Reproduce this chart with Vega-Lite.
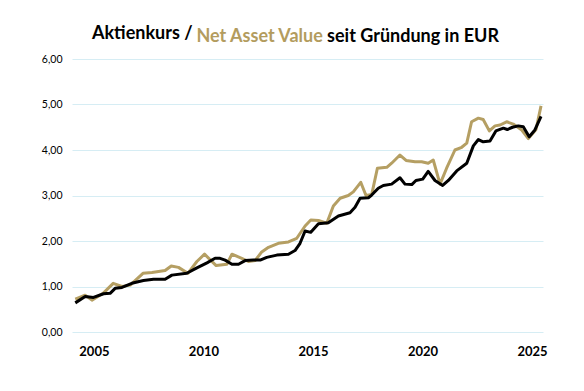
{
  "$schema": "https://vega.github.io/schema/vega-lite/v6.json",
  "autosize": "none",
  "width": 471,
  "height": 273,
  "padding": {"left": 72, "top": 59, "right": 41, "bottom": 59},
  "background": "#ffffff",
  "config": {"view": {"stroke": null}},
  "title": {
    "text": "Aktienkurs /",
    "anchor": "start",
    "frame": "group",
    "dx": 20,
    "offset": -29,
    "baseline": "alphabetic",
    "font": "Lato",
    "fontSize": 18,
    "fontWeight": "bold",
    "color": "#000000"
  },
  "datasets": {
    "nav": [
      {"t": 2004.15, "v": 0.72}, {"t": 2004.60, "v": 0.81}, {"t": 2004.91, "v": 0.70},
      {"t": 2005.42, "v": 0.85}, {"t": 2005.88, "v": 1.07}, {"t": 2006.28, "v": 1.00},
      {"t": 2006.66, "v": 1.03}, {"t": 2007.24, "v": 1.29}, {"t": 2007.65, "v": 1.31},
      {"t": 2008.25, "v": 1.35}, {"t": 2008.53, "v": 1.45}, {"t": 2008.86, "v": 1.42},
      {"t": 2009.29, "v": 1.29}, {"t": 2009.70, "v": 1.55}, {"t": 2010.05, "v": 1.71},
      {"t": 2010.58, "v": 1.46}, {"t": 2011.07, "v": 1.49}, {"t": 2011.30, "v": 1.71},
      {"t": 2011.75, "v": 1.62}, {"t": 2012.05, "v": 1.55}, {"t": 2012.36, "v": 1.57},
      {"t": 2012.66, "v": 1.76}, {"t": 2012.97, "v": 1.86}, {"t": 2013.42, "v": 1.95},
      {"t": 2013.88, "v": 1.98}, {"t": 2014.26, "v": 2.06}, {"t": 2014.64, "v": 2.33},
      {"t": 2014.90, "v": 2.46}, {"t": 2015.25, "v": 2.45}, {"t": 2015.63, "v": 2.39},
      {"t": 2015.93, "v": 2.77}, {"t": 2016.24, "v": 2.94}, {"t": 2016.61, "v": 3.00},
      {"t": 2016.84, "v": 3.08}, {"t": 2017.18, "v": 3.29}, {"t": 2017.42, "v": 3.00},
      {"t": 2017.68, "v": 3.02}, {"t": 2017.94, "v": 3.60}, {"t": 2018.37, "v": 3.62},
      {"t": 2018.59, "v": 3.71}, {"t": 2018.97, "v": 3.89}, {"t": 2019.25, "v": 3.77},
      {"t": 2019.66, "v": 3.74}, {"t": 2019.96, "v": 3.74}, {"t": 2020.26, "v": 3.71},
      {"t": 2020.49, "v": 3.78}, {"t": 2020.80, "v": 3.25}, {"t": 2021.10, "v": 3.60},
      {"t": 2021.48, "v": 4.00}, {"t": 2021.79, "v": 4.06}, {"t": 2022.02, "v": 4.15},
      {"t": 2022.24, "v": 4.62}, {"t": 2022.55, "v": 4.70}, {"t": 2022.77, "v": 4.67},
      {"t": 2023.05, "v": 4.42}, {"t": 2023.31, "v": 4.53}, {"t": 2023.54, "v": 4.55},
      {"t": 2023.84, "v": 4.62}, {"t": 2024.14, "v": 4.57}, {"t": 2024.53, "v": 4.44},
      {"t": 2024.83, "v": 4.25}, {"t": 2025.18, "v": 4.45}, {"t": 2025.41, "v": 4.97}
    ],
    "kurs": [
      {"t": 2004.15, "v": 0.64}, {"t": 2004.60, "v": 0.78}, {"t": 2004.98, "v": 0.76},
      {"t": 2005.44, "v": 0.84}, {"t": 2005.74, "v": 0.85}, {"t": 2005.97, "v": 0.96},
      {"t": 2006.28, "v": 0.98}, {"t": 2006.73, "v": 1.07}, {"t": 2007.26, "v": 1.13},
      {"t": 2007.72, "v": 1.16}, {"t": 2008.25, "v": 1.16}, {"t": 2008.56, "v": 1.25},
      {"t": 2009.24, "v": 1.29}, {"t": 2009.70, "v": 1.41}, {"t": 2010.16, "v": 1.52},
      {"t": 2010.53, "v": 1.62}, {"t": 2010.76, "v": 1.62}, {"t": 2010.99, "v": 1.58},
      {"t": 2011.30, "v": 1.49}, {"t": 2011.60, "v": 1.49}, {"t": 2011.90, "v": 1.57},
      {"t": 2012.28, "v": 1.58}, {"t": 2012.59, "v": 1.58}, {"t": 2012.89, "v": 1.64},
      {"t": 2013.35, "v": 1.69}, {"t": 2013.88, "v": 1.71}, {"t": 2014.18, "v": 1.79},
      {"t": 2014.41, "v": 1.95}, {"t": 2014.64, "v": 2.22}, {"t": 2014.90, "v": 2.19},
      {"t": 2015.25, "v": 2.38}, {"t": 2015.70, "v": 2.40}, {"t": 2016.16, "v": 2.55},
      {"t": 2016.69, "v": 2.62}, {"t": 2016.92, "v": 2.74}, {"t": 2017.15, "v": 2.94},
      {"t": 2017.53, "v": 2.95}, {"t": 2017.68, "v": 3.01}, {"t": 2017.98, "v": 3.16},
      {"t": 2018.21, "v": 3.22}, {"t": 2018.59, "v": 3.25}, {"t": 2018.97, "v": 3.39},
      {"t": 2019.20, "v": 3.25}, {"t": 2019.51, "v": 3.24}, {"t": 2019.70, "v": 3.33},
      {"t": 2020.01, "v": 3.36}, {"t": 2020.26, "v": 3.53}, {"t": 2020.57, "v": 3.33},
      {"t": 2020.92, "v": 3.22}, {"t": 2021.18, "v": 3.33}, {"t": 2021.56, "v": 3.54},
      {"t": 2022.02, "v": 3.71}, {"t": 2022.32, "v": 4.09}, {"t": 2022.55, "v": 4.23},
      {"t": 2022.77, "v": 4.18}, {"t": 2023.08, "v": 4.20}, {"t": 2023.35, "v": 4.42},
      {"t": 2023.69, "v": 4.48}, {"t": 2023.87, "v": 4.45}, {"t": 2024.11, "v": 4.50},
      {"t": 2024.37, "v": 4.53}, {"t": 2024.60, "v": 4.51}, {"t": 2024.87, "v": 4.29},
      {"t": 2025.13, "v": 4.44}, {"t": 2025.41, "v": 4.74}
    ]
  },
  "encoding": {
    "x": {
      "field": "t",
      "type": "quantitative",
      "scale": {"domain": [2004, 2025.5], "nice": false, "zero": false},
      "axis": {
        "values": [2005, 2010, 2015, 2020, 2025],
        "format": "d",
        "grid": false,
        "domain": false,
        "ticks": false,
        "labelFont": "Lato",
        "labelFontSize": 13,
        "labelFontWeight": "bold",
        "labelColor": "#000000",
        "labelPadding": 13,
        "labelFlush": false,
        "title": "seit Gründung in EUR",
        "titleX": 254.6,
        "titleY": -290.5,
        "titleAlign": "left",
        "titleAnchor": null,
        "titleBaseline": "alphabetic",
        "titleFont": "Lato",
        "titleFontSize": 18,
        "titleFontWeight": "bold",
        "titleColor": "#000000"
      }
    },
    "y": {
      "field": "v",
      "type": "quantitative",
      "scale": {"domain": [0, 6], "nice": false},
      "axis": {
        "values": [0, 1, 2, 3, 4, 5, 6],
        "labelExpr": "replace(format(datum.value, '.2f'), '.', ',')",
        "grid": true,
        "gridColor": "#d6edf4",
        "gridWidth": 1,
        "domain": false,
        "ticks": false,
        "labelFont": "Lato",
        "labelFontSize": 10.5,
        "labelColor": "#000000",
        "labelPadding": 10,
        "title": "Net Asset Value",
        "titleAngle": 0,
        "titleX": 124,
        "titleY": -17.5,
        "titleAlign": "left",
        "titleAnchor": null,
        "titleBaseline": "alphabetic",
        "titleFont": "Lato",
        "titleFontSize": 18,
        "titleFontWeight": "bold",
        "titleColor": "#b39c5e"
      }
    }
  },
  "layer": [
    {
      "data": {"name": "nav"},
      "mark": {"type": "line", "color": "#b59f63", "strokeWidth": 3, "strokeJoin": "round"}
    },
    {
      "data": {"name": "kurs"},
      "mark": {"type": "line", "color": "#000000", "strokeWidth": 3, "strokeJoin": "round"}
    }
  ]
}
